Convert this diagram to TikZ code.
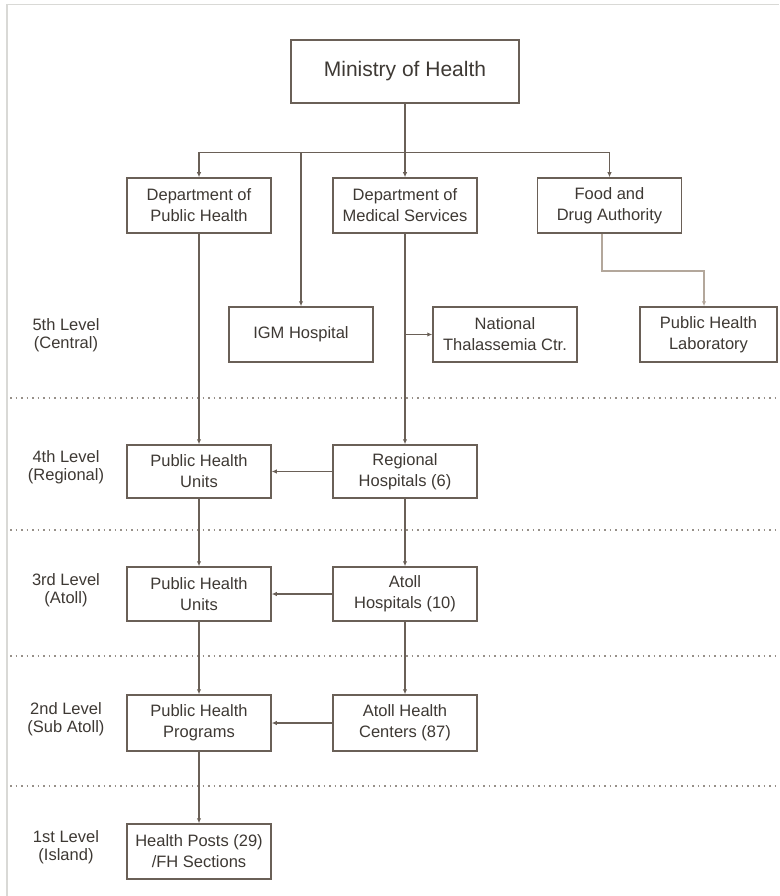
\documentclass[tikz,border=0pt]{standalone}
\usepackage{fontspec}
\setmainfont{Liberation Sans}
\usetikzlibrary{arrows.meta}
\definecolor{ln}{HTML}{6A6057}
\definecolor{tx}{HTML}{3E3934}
\definecolor{lt}{HTML}{B3A79B}
\definecolor{fr}{HTML}{D9D9D6}
\begin{document}
\begin{tikzpicture}[x=1pt,y=-1pt,
  box/.style={draw=ln, line width=1.5pt, fill=white, text=tx, align=center,
    minimum width=144pt, minimum height=55pt, inner sep=0pt,
    font=\fontsize{16.5}{21}\selectfont},
  lvl/.style={text=tx, align=center, font=\fontsize{16.5}{18}\selectfont},
  con/.style={draw=ln, line width=1.5pt},
  arr/.style={con, -{Latex[length=5pt,width=4.5pt]}},
  dot/.style={draw=ln!70, line width=1.1pt, dash pattern=on 1.5pt off 4pt}]
\useasboundingbox (0,0) rectangle (779,896);
\fill[white] (0,0) rectangle (779,896);
% frame
\draw[fr, line width=1.5pt] (7,896) -- (7,4.5) -- (779,4.5);
% dotted level separators
\foreach \yy in {398,530,656,786} \draw[dot] (10,\yy) -- (779,\yy);
% nodes
\node[box, minimum width=228pt, minimum height=63pt, font=\fontsize{21}{24}\selectfont] (min) at (405,71.5) {Ministry of Health};
\node[box] (dph) at (199,205.5) {Department of\\Public Health};
\node[box] (dms) at (405,205.5) {Department of\\Medical Services};
\node[box] (fda) at (609.5,205.5) {Food and\\Drug Authority};
\node[box] (igm) at (301,334.5) {IGM Hospital};
\node[box] (ntc) at (505,334.5) {National\\Thalassemia Ctr.};
\node[box, minimum width=137pt] (phl) at (708.5,334.5) {Public Health\\Laboratory};
\node[box, minimum height=53pt] (phu4) at (199,471.5) {Public Health\\Units};
\node[box, minimum height=53pt] (rh) at (405,471.5) {Regional\\Hospitals (6)};
\node[box, minimum height=54pt] (phu3) at (199,594) {Public Health\\Units};
\node[box, minimum height=54pt] (ah) at (405,594) {Atoll\\Hospitals (10)};
\node[box, minimum height=56pt] (php) at (199,723) {Public Health\\Programs};
\node[box, minimum height=56pt] (ahc) at (405,723) {Atoll Health\\Centers (87)};
\node[box] (hp) at (199,851.5) {Health Posts (29)\\/FH Sections};
% level labels
\node[lvl] (l5) at (66,335) {5th Level\\(Central)};
\node[lvl] (l4) at (66,467) {4th Level\\(Regional)};
\node[lvl] (l3) at (66,590) {3rd Level\\(Atoll)};
\node[lvl] (l2) at (66,719) {2nd Level\\(Sub Atoll)};
\node[lvl] (l1) at (66,847) {1st Level\\(Island)};
% junction coordinates
\coordinate (jm) at (405,152.5);
\coordinate (jl) at (199,152.5);
\coordinate (jr) at (609.5,152.5);
\coordinate (ji) at (301,152.5);
\coordinate (jt) at (405,334.5);
\coordinate (fb) at (602,271);
\coordinate (fc) at (704,271);
% connectors
\draw[con] (min.south) -- (jm);
\draw[con] (jl) -- (jr);
\draw[arr] (jl) -- (dph.north);
\draw[arr] (jm) -- (dms.north);
\draw[arr] (jr) -- (fda.north);
\draw[arr] (ji) -- (igm.north);
\draw[arr] (jt) -- (ntc.west);
\draw[arr] (dms.south) -- (rh.north);
\draw[arr] (dph.south) -- (phu4.north);
\draw[con, draw=lt, -{Latex[length=5pt,width=4.5pt]}] (fda.south -| fb) -- (fb) -- (fc) -- (fc |- phl.north);
\draw[arr] (rh.west) -- (phu4.east);
\draw[arr] (phu4.south) -- (phu3.north);
\draw[arr] (rh.south) -- (ah.north);
\draw[arr] (ah.west) -- (phu3.east);
\draw[arr] (phu3.south) -- (php.north);
\draw[arr] (ah.south) -- (ahc.north);
\draw[arr] (ahc.west) -- (php.east);
\draw[arr] (php.south) -- (hp.north);
\end{tikzpicture}
\end{document}
